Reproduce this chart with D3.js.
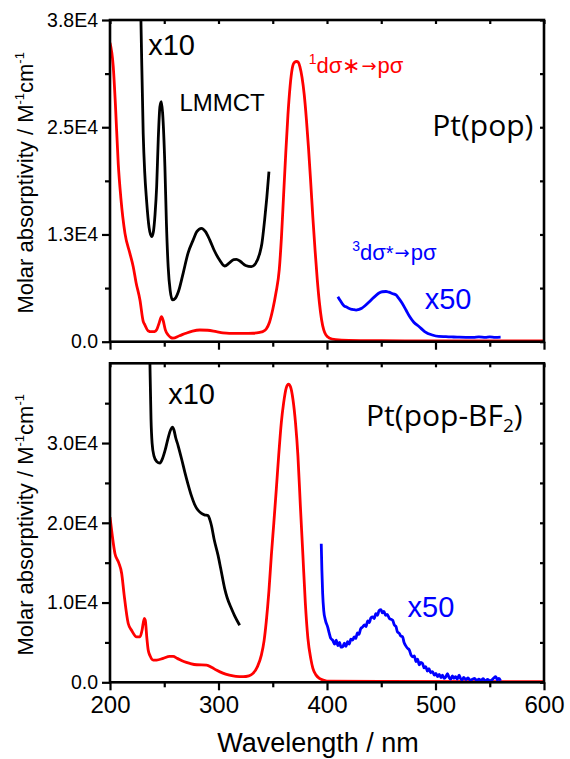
<!DOCTYPE html>
<html>
<head>
<meta charset="utf-8">
<script src="https://cdn.jsdelivr.net/npm/d3@7"></script>
<style>
  html, body { margin: 0; padding: 0; background: #fff; }
  svg { display: block; font-family: "Liberation Sans", Arial, sans-serif; }
</style>
</head>
<body>
<svg id="chart" width="570" height="759"></svg>
<script>
// ---- Pt(pop): absorption spectrum [wavelength nm, epsilon M^-1 cm^-1]
const popMain = [[200,35300],[203,32500],[205,28000],[207.6,21000],[210,17000],[213.8,12800],[218.4,10400],[221.4,8860],[224,7000],[227.6,4930],[230.6,2400],[232.2,1970],[235,1300],[238.3,1180],[241,1200],[243,1400],[245,2100],[247.5,2950],[249,2500],[251,1400],[253.6,790],[256,500],[258,420],[264,700],[270,1000],[276,1250],[282.8,1380],[290,1350],[298,1180],[304,1050],[310,990],[318,980],[325.7,990],[332,1000],[338,1100],[341,1200],[344,1500],[347,2300],[350,3800],[353,5800],[356,8500],[358,12300],[360,17300],[362,22300],[364,26800],[366,30200],[368,32300],[370,33000],[372,33100],[373.5,33000],[375,32500],[377,31200],[379,29200],[381,26300],[383,22800],[385,18800],[387,14600],[389,10800],[391,7400],[393,4600],[395,2600],[397,1400],[399,800],[402,450],[408,250],[420,150],[450,110],[500,90],[550,80],[600,80]];
// x10 trace (UV region)
const popX10 = [[226,52000],[228.5,38000],[230.6,24600],[232,20000],[233.7,16700],[236,13500],[238.3,12400],[240,13000],[241.5,15000],[243,18300],[244.5,24000],[246,27760],[247.3,28350],[248.5,27000],[250.6,20670],[252,14000],[253.6,8860],[255.5,6000],[257.6,4930],[260,5100],[263,5900],[267.4,8080],[272,10500],[276.6,12000],[280,13000],[284.3,13390],[288,13000],[292,12000],[296,10800],[301,9650],[305.7,8940],[310,9300],[314,9700],[316.5,9730],[320,9500],[325,9000],[330.3,8860],[334,9200],[338,10440],[340,11600],[342.5,14370],[344.5,17000],[346.5,20080]];
// x50 trace (triplet band)
const popX50 = [[410,5320],[412,4900],[414,4500],[416,4200],[418,4100],[420,3950],[422,3850],[424,3800],[426.8,3740],[429,3800],[432,3950],[435,4250],[439,4720],[442,5100],[445,5450],[448,5750],[451,5900],[454.4,5930],[457,5850],[460,5700],[463.6,5520],[466,5150],[469,4600],[472.8,3740],[476,3000],[480,2300],[485,1770],[490,1200],[497,790],[503,620],[509.6,590],[515,560],[520,540],[528,520],[535,510],[540,560],[546,500],[550,570],[555,520],[560,540]];

// ---- Pt(pop-BF2)
const bfMain = [[200,20700],[202,18500],[204.6,16120],[208,15000],[210.8,13620],[213,11000],[216.8,7370],[220,6500],[224.5,5700],[227.6,5700],[229.5,6500],[231.6,8000],[232.5,7800],[234,5500],[235.2,4040],[237,3300],[239.8,2790],[243,2790],[249,3000],[255,3250],[258.2,3250],[262,3000],[268,2600],[273.6,2370],[280,2200],[289,2160],[294,1850],[298,1540],[304,1150],[310,910],[316,750],[322.6,700],[328,800],[331.8,1120],[336,2000],[339.5,3410],[342,5200],[344,7575],[346.5,11500],[348.7,15900],[351,20000],[353.3,24250],[355.5,28500],[357.9,32575],[360,35000],[362.5,36950],[364.5,37400],[366.5,37000],[368.6,35500],[371,32500],[373.2,28400],[375.5,22000],[377.8,15900],[380,10000],[382.4,5500],[385,3000],[387,1750],[390,900],[393,500],[397,250],[400,150],[450,100],[600,80]];
const bfX10 = [[234.5,60000],[236.8,40000],[237.8,33000],[238.8,30000],[240.5,28400],[243,27700],[246,27500],[248.5,28100],[251,29200],[253.5,30600],[256,31700],[257.6,32000],[259,31600],[260.5,30700],[262.8,29660],[266,28000],[269,26330],[272,24800],[275,23410],[278,22300],[281,21600],[284,21200],[287,21000],[290.4,20910],[292,20400],[293.5,19660],[296,17900],[299.6,15910],[302,14300],[305.7,11750],[308,10600],[311.9,9250],[315,8300],[319.5,7160]];
const bfX50 = [[394.7,17375],[395.3,14000],[396,11125],[397,9000],[398.5,7800],[400.6,6950],[402,6200],[403.5,5500],[405.2,5290],[407,4800],[408.5,5300],[410,4600],[411.5,5000],[413,4400],[414.5,4450],[416,4900],[417.5,4500],[419,5100],[420.5,4800],[422,5400],[423.7,5290],[425,5700],[426.5,5500],[428,6200],[429.5,6000],[431,6700],[432.9,6950],[434.5,7200],[436,7000],[437.5,7700],[439,7500],[440.5,8100],[442.1,8200],[443.5,8000],[445,8600],[446.5,8400],[448,9000],[449.8,9100],[451,8700],[452.5,8900],[454,8400],[455.5,8500],[457.5,8000],[459,7900],[460.5,7790],[462,7200],[463.5,7000],[465,6300],[466.7,6125],[468,5800],[469.7,5700],[471,5000],[472.5,4600],[474,4300],[475.9,4040],[477.5,3400],[479,3200],[480.5,3300],[482,2600],[483.5,2900],[485,2200],[486.5,2500],[488,2375],[489.5,1800],[491,1950],[492.5,1400],[494,1700],[495.5,1200],[497.3,1325],[499,900],[500.4,1125],[502,700],[503.5,1000],[505,600],[506.5,900],[508,500],[509.6,700],[511,1100],[512.5,600],[514,400],[515.5,800],[517,500],[518.5,700],[520,400],[521.8,910],[523,500],[524.5,300],[526,600],[528,350],[530,550],[532,250],[534,375],[536,500],[538,200],[540,400],[542,250],[544,450],[546,160],[548,350],[550,200],[552,300],[553.5,500],[555.6,700],[557,300],[558.5,500],[560,200]];

// ---- axes
const xDomain = [200, 600];
const xMajor = [200, 300, 400, 500, 600];
const xMinor = [250, 350, 450, 550];
const topDomain = [0, 38000];
const topMajor = [0, 38000 / 3, 76000 / 3, 38000];
const topMajorLabels = ["0.0", "1.3E4", "2.5E4", "3.8E4"];
const topMinor = [38000 / 6, 38000 / 2, 190000 / 6];
const botDomain = [0, 40000];
const botMajor = [0, 10000, 20000, 30000];
const botMajorLabels = ["0.0", "1.0E4", "2.0E4", "3.0E4"];
const botMinor = [5000, 15000, 25000, 35000];

const SANS = "'Liberation Sans', Arial, sans-serif";
const HUMANIST = "'Open Sans', 'Noto Sans', sans-serif";

const svg = d3.select("#chart");
const left = 110, right = 544;
const x = d3.scaleLinear().domain(xDomain).range([left, right]);

function panel(opts) {
  const y = d3.scaleLinear().domain(opts.domain).range([opts.bottom, opts.top]);
  const g = svg.append("g");
  const clipId = "clip" + opts.id;
  svg.append("clipPath").attr("id", clipId).append("rect")
    .attr("x", left).attr("y", opts.top).attr("width", right - left).attr("height", opts.bottom - opts.top);

  const line = d3.line().x(d => x(d[0])).y(d => y(d[1])).curve(d3.curveMonotoneX);
  const series = g.append("g").attr("clip-path", `url(#${clipId})`);
  opts.series.forEach(s => {
    series.append("path").datum(s.data)
      .attr("d", line).attr("fill", "none").attr("stroke", s.color)
      .attr("stroke-width", 2.8).attr("stroke-linejoin", "round");
  });

  const ax = g.append("g").attr("class", "axes");
  const styleAxis = sel => {
    sel.select(".domain").remove();
    sel.selectAll(".tick line").attr("stroke", "#000").attr("stroke-width", 2.2);
  };
  // bottom (outward)
  ax.append("g").attr("transform", `translate(0,${opts.bottom})`)
    .call(d3.axisBottom(x).tickValues(xMajor).tickSize(8).tickPadding(6)
      .tickFormat(opts.xLabels ? d3.format("d") : () => ""))
    .call(styleAxis)
    .call(s => s.selectAll("text").style("font-size", "24px").attr("fill", "#000")
      .style("font-family", SANS));
  ax.append("g").attr("transform", `translate(0,${opts.bottom})`)
    .call(d3.axisBottom(x).tickValues(xMinor).tickSize(5).tickFormat(() => ""))
    .call(styleAxis);
  // top (inward)
  ax.append("g").attr("transform", `translate(0,${opts.top})`)
    .call(d3.axisBottom(x).tickValues(xMajor.concat(xMinor)).tickSize(4).tickFormat(() => ""))
    .call(styleAxis);
  // left (outward)
  ax.append("g").attr("transform", `translate(${left},0)`)
    .call(d3.axisLeft(y).tickValues(opts.major).tickSize(8).tickPadding(4)
      .tickFormat((d, i) => opts.labels[i]))
    .call(styleAxis)
    .call(s => s.selectAll("text").style("font-size", "19.5px").attr("fill", "#000")
      .style("font-family", SANS));
  ax.append("g").attr("transform", `translate(${left},0)`)
    .call(d3.axisLeft(y).tickValues(opts.minor).tickSize(5).tickFormat(() => ""))
    .call(styleAxis);
  // right (inward)
  ax.append("g").attr("transform", `translate(${right},0)`)
    .call(d3.axisLeft(y).tickValues(opts.major.concat(opts.minor)).tickSize(4).tickFormat(() => ""))
    .call(styleAxis);
  // frame
  g.append("rect").attr("x", left).attr("y", opts.top)
    .attr("width", right - left).attr("height", opts.bottom - opts.top)
    .attr("fill", "none").attr("stroke", "#000").attr("stroke-width", 2.6);

  // y label
  const yl = g.append("text")
    .attr("transform", `translate(33,${(opts.top + opts.bottom) / 2 + 2}) rotate(-90)`)
    .attr("text-anchor", "middle").style("font-size", "22px").style("font-family", SANS)
    .attr("fill", "#000");
  yl.append("tspan").text("Molar absorptivity / M");
  yl.append("tspan").style("font-size", "13px").attr("dy", -9).text("-1");
  yl.append("tspan").attr("dy", 9).text("cm");
  yl.append("tspan").style("font-size", "13px").attr("dy", -9).text("-1");

  return { g, y };
}

const panelPop = panel({
  id: "a", top: 20, bottom: 341.7, domain: topDomain,
  major: topMajor, labels: topMajorLabels, minor: topMinor, xLabels: false,
  series: [
    { data: popMain, color: "#ff0000" },
    { data: popX10, color: "#000000" },
    { data: popX50, color: "#0000ff" }
  ]
});
const panelBf = panel({
  id: "b", top: 363.3, bottom: 682.3, domain: botDomain,
  major: botMajor, labels: botMajorLabels, minor: botMinor, xLabels: true,
  series: [
    { data: bfMain, color: "#ff0000" },
    { data: bfX10, color: "#000000" },
    { data: bfX50, color: "#0000ff" }
  ]
});

// x axis title
svg.append("text").attr("x", x(400) - 9).attr("y", 751.5)
  .attr("text-anchor", "middle").style("font-size", "27px").style("font-family", SANS)
  .attr("fill", "#000")
  .text("Wavelength / nm");

// ---- annotations (positioned in data coordinates)
function label(p, nm, val, str, size, color, family) {
  return p.g.append("text").attr("x", x(nm)).attr("y", p.y(val))
    .style("font-size", size + "px").attr("fill", color)
    .style("font-family", family || SANS)
    .text(str);
}
label(panelPop, 235.2, 33900, "x10", 29, "#000");
label(panelPop, 264, 27300, "LMMCT", 24, "#000");
label(panelPop, 497, 24300, "Pt(pop)", 30, "#000", HUMANIST);
label(panelPop, 490, 3850, "x50", 29, "#0000ff");

function transition(p, nm, val, sup, color, star, starSize) {
  const t = p.g.append("text").attr("x", x(nm)).attr("y", p.y(val))
    .style("font-size", "22px").style("font-family", SANS).attr("fill", color);
  t.append("tspan").style("font-size", "14px").attr("dy", -9).text(sup);
  t.append("tspan").attr("dy", 9).text("d\u03C3");
  t.append("tspan").style("font-size", starSize + "px").text(star);
  t.append("tspan").style("font-family", "'DejaVu Sans', sans-serif").style("font-size", "18px")
    .attr("dy", -1).attr("dx", 1).text("\u2192");
  t.append("tspan").attr("dy", 1).attr("dx", 1).text("p\u03C3");
  return t;
}
transition(panelPop, 383.2, 31700, "1", "#ff0000", "\u2217", 22);
transition(panelPop, 423.2, 9650, "3", "#0000ff", "*", 20);

label(panelBf, 253.6, 34875, "x10", 29, "#000");
const bfName = label(panelBf, 436, 32160, "Pt(pop-BF", 30, "#000", HUMANIST);
bfName.append("tspan").style("font-size", "19px").attr("dy", 6).text("2");
bfName.append("tspan").attr("dy", -6).text(")");
label(panelBf, 474.3, 8200, "x50", 29, "#0000ff");
</script>
</body>
</html>
